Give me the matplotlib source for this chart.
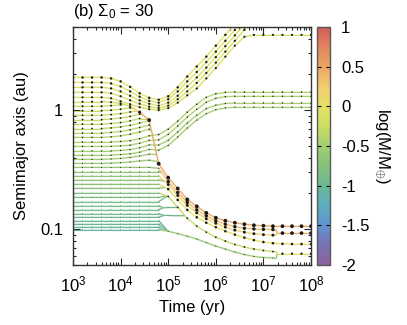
import numpy as np
import matplotlib.pyplot as plt
from matplotlib.colors import LinearSegmentedColormap, Normalize
from matplotlib.collections import LineCollection
from matplotlib.cm import ScalarMappable
from matplotlib.ticker import FixedLocator, FixedFormatter, LogLocator, NullFormatter

plt.rcParams['font.family'] = ['Liberation Sans', 'DejaVu Sans']
plt.rcParams['mathtext.fontset'] = 'custom'
plt.rcParams['mathtext.rm'] = 'Liberation Sans'
plt.rcParams['mathtext.it'] = 'Liberation Sans:italic'
plt.rcParams['font.size'] = 12

# output snapshots, log10(t / yr), every 0.2 dex
snap = [round(3.0 + 0.2 * k, 1) for k in range(26)]

# initial orbits at t = 1e3 yr: log10(a / au) and log10(M / M_earth)
loga0 = [0.275, 0.233, 0.192, 0.150, 0.108, 0.071, 0.033, -0.004, -0.042, -0.079,
         -0.117, -0.154, -0.192, -0.229, -0.267, -0.304, -0.342, -0.378, -0.413, -0.448,
         -0.481, -0.517, -0.552, -0.586, -0.621, -0.658, -0.696, -0.733, -0.769, -0.804,
         -0.836, -0.869, -0.900, -0.928, -0.957, -0.981, -1.003]
logm0 = [-0.05, -0.08, -0.1, -0.12, -0.15, -0.2, -0.22, -0.25, -0.27, -0.3,
         -0.32, -0.35, -0.37, -0.4, -0.42, -0.45, -0.48, -0.5, -0.53, -0.56,
         -0.6, -0.63, -0.66, -0.69, -0.72, -0.75, -0.78, -0.81, -0.84, -0.87,
         -0.9, -0.93, -0.96, -0.99, -1.02, -1.05, -1.08]

# outer bundle scattered outward (snapshots 4..25)
tail_A = [
    [0.267, 0.242, 0.196, 0.142, 0.104, 0.088, 0.117, 0.192, 0.283, 0.367, 0.450, 0.542, 0.633, 0.725, 0.817, 0.892] + [0.908] * 6,
    [0.225, 0.200, 0.158, 0.113, 0.079, 0.063, 0.092, 0.158, 0.242, 0.321, 0.404, 0.492, 0.583, 0.675, 0.767, 0.850] + [0.867] * 6,
    [0.183, 0.158, 0.121, 0.083, 0.054, 0.038, 0.063, 0.121, 0.200, 0.275, 0.358, 0.446, 0.538, 0.629, 0.721, 0.800] + [0.825] * 6,
    [0.142, 0.117, 0.083, 0.054, 0.029, 0.017, 0.038, 0.092, 0.158, 0.229, 0.313, 0.400, 0.492, 0.583, 0.675, 0.758] + [0.783] * 6,
    [0.100, 0.075, 0.050, 0.025, 0.008, 0.000, 0.017, 0.063, 0.125, 0.183, 0.267, 0.354, 0.450, 0.542, 0.617] + [0.633] * 7,
]

# the big planet migrating inward (snapshots 4..25)
tail_L1 = [0.067, 0.058, 0.033, -0.017, -0.083, -0.450, -0.567, -0.658, -0.750, -0.808, -0.863,
           -0.904, -0.929, -0.946, -0.958, -0.967, -0.971] + [-0.975] * 5

# middle group pushed out to ~1.1-1.4 au (snapshots 5..25)
tail_B = [
    [-0.263, -0.256, -0.240, -0.215, -0.205, -0.160, -0.092, -0.017, 0.050, 0.108, 0.138, 0.150] + [0.153] * 9,
    [-0.300, -0.294, -0.278, -0.253, -0.250, -0.203, -0.133, -0.058, 0.008, 0.067, 0.100, 0.113] + [0.117] * 9,
    [-0.338, -0.331, -0.316, -0.292, -0.293, -0.253, -0.183, -0.108, -0.042, 0.013, 0.042, 0.056] + [0.061] * 9,
    [-0.373, -0.367, -0.353, -0.330, -0.336, -0.296, -0.225, -0.150, -0.083, -0.029, 0.004, 0.019] + [0.025] * 9,
]

# orbits swallowed by the big planet: (orbit, log a from snapshot 4, last point)
swallowed = [
    (6, [0.038, 0.045], (4.09, 0.048)),
    (7, [0.000, 0.008, 0.020], (4.25, 0.020)),
    (8, [-0.037, -0.029, -0.015], (4.36, -0.007)),
    (9, [-0.074, -0.066, -0.052, -0.033], (4.45, -0.033)),
    (10, [-0.112, -0.104, -0.090, -0.070], (4.56, -0.070)),
    (11, [-0.149, -0.141, -0.127, -0.108, -0.090], (4.61, -0.101)),
    (12, [-0.187, -0.179, -0.165, -0.146, -0.125], (4.63, -0.138)),
    (13, [-0.224, -0.216, -0.202, -0.183, -0.160], (4.65, -0.175)),
    (18, [-0.410, -0.405, -0.397, -0.385, -0.370], (4.757, -0.372)),
    (19, [-0.445, -0.441, -0.435, -0.427, -0.420], (4.79, -0.433)),
]

# inner survivors
tail_L2 = [-0.488, -0.600, -0.692, -0.775, -0.838, -0.888, -0.929, -0.958, -0.979, -0.992,
           -0.998, -1.002, -1.003] + [-1.033] * 4                      # from snapshot 9
tail_X = [-0.625, -0.717, -0.800, -0.863, -0.913, -0.950, -0.983, -1.008, -1.025, -1.038,
          -1.046, -1.050]                                                # from snapshot 10
tail_L3 = [-0.663, -0.754, -0.838, -0.900, -0.946, -0.983, -1.017, -1.046, -1.071, -1.092,
           -1.108, -1.118, -1.123] + [-1.125] * 3
tail_L4 = [-0.725, -0.817, -0.908, -0.975, -1.025, -1.067, -1.100, -1.129, -1.150, -1.167,
           -1.179, -1.188] + [-1.206] * 4
tail_L5 = [-1.017, -1.038, -1.058, -1.083, -1.113, -1.142, -1.167, -1.192, -1.213, -1.229,
           -1.238, -1.242]

# inner orbits merging near 1e5 yr: (orbit, log a from snapshot 10, extra points)
merged = [
    (21, [], [(4.86, -0.521)]),
    (23, [], [(4.92, -0.596)]),
    (25, [], [(4.93, -0.648)]),
    (27, [], [(4.96, -0.720)]),
    (28, [], [(4.98, -0.722)]),
    (29, [], [(4.90, -0.820)]),
    (30, [-0.818, -0.817], [(4.90, -0.820)]),
    (31, [], [(4.90, -0.885)]),
    (32, [-0.885, -0.887], [(4.90, -0.885), (5.35, -0.886)]),
    (33, [], [(4.99, -1.015)]),
    (34, [], [(4.95, -1.010)]),
    (35, [], [(4.88, -1.007)]),
]


def build(i, k, tail=(), extra=(), steps=()):
    lt = snap[:k] + snap[k:k + len(tail)]
    la = [loga0[i]] * k + list(tail)
    for t, a in extra:
        lt.append(t)
        la.append(a)
    order = np.argsort(lt, kind='stable')
    lt = np.array(lt)[order]
    la = np.array(la)[order]
    lm = np.full(len(lt), logm0[i])
    for t, m in steps:
        lm[lt >= t - 1e-9] = m
    return lt, la, lm


tracks = []
for j, tail in enumerate(tail_A):
    tracks.append(build(j, 4, tail))
for j, tail in enumerate(tail_B):
    tracks.append(build(14 + j, 5, tail))
for i, tail, end in swallowed:
    tracks.append(build(i, 4, tail, [end]))
for i, tail, extra in merged:
    tracks.append(build(i, 10, tail, extra))
tracks.append(build(36, 10, tail_L5, [(7.27, -1.242), (7.29, -1.206)], [(5.0, -0.6)]))
tracks.append(build(26, 10, tail_L4, [(7.27, -1.190), (7.29, -1.206)], [(5.0, -0.3), (7.29, -0.1)]))
tracks.append(build(24, 10, tail_L3, steps=[(5.0, 0.0)]))
tracks.append(build(22, 10, tail_X, [(7.27, -1.050), (7.29, -1.033)], [(5.0, 0.15)]))
tracks.append(build(20, 9, tail_L2, [(7.27, -1.003), (7.29, -1.033)], [(5.0, 0.35), (7.29, 0.45)]))
tracks.append(build(5, 4, tail_L1, steps=[(4.4, 0.25), (4.6, 0.5)]))

nodes = [(-2.0, (0.56, 0.38, 0.62)), (-1.75, (0.47, 0.45, 0.70)), (-1.5, (0.38, 0.58, 0.82)),
         (-1.25, (0.36, 0.68, 0.74)), (-1.0, (0.42, 0.72, 0.58)), (-0.75, (0.52, 0.76, 0.48)),
         (-0.5, (0.64, 0.81, 0.44)), (-0.25, (0.80, 0.87, 0.40)), (0.0, (0.90, 0.88, 0.38)),
         (0.25, (0.95, 0.80, 0.45)), (0.5, (0.92, 0.65, 0.38)), (0.75, (0.88, 0.52, 0.38)),
         (1.0, (0.83, 0.36, 0.36))]
cmap = LinearSegmentedColormap.from_list('mass', [((v + 2) / 3, c) for v, c in nodes])
norm = Normalize(-2, 1)

fig = plt.figure(figsize=(4.07, 3.25), dpi=100)
ax = fig.add_axes([0.1794, 0.1846, 0.5848, 0.7323])

for lt, la, lm in tracks:
    x = 10 ** lt
    y = 10 ** la
    pts = np.column_stack([x, y])
    segs = np.stack([pts[:-1], pts[1:]], axis=1)
    cols = cmap(norm(lm[1:]))
    ax.add_collection(LineCollection(segs, colors=cols, linewidths=1.6, alpha=0.22, zorder=1))
    ax.add_collection(LineCollection(segs, colors=cols, linewidths=0.8, zorder=2))
    kk = (lt - 3) / 0.2
    on = np.isclose(kk, np.round(kk))
    m = lm[on]
    d = np.clip(1.3 + 1.8 * (m + 0.3), 0.6, 2.9)
    shade = np.where(m > -0.65, '0.1', '0.35')
    ax.scatter(x[on], y[on], s=d ** 2, c=shade, linewidths=0, zorder=3)

ax.set_xscale('log')
ax.set_yscale('log')
ax.set_xlim(1e3, 1e8)
ax.set_ylim(0.05, 5)
ax.xaxis.set_major_locator(FixedLocator([1e3, 1e4, 1e5, 1e6, 1e7, 1e8]))
ax.xaxis.set_major_formatter(FixedFormatter(['$10^{%d}$' % p for p in range(3, 9)]))
ax.xaxis.set_minor_locator(LogLocator(base=10, subs=range(2, 10), numticks=20))
ax.xaxis.set_minor_formatter(NullFormatter())
ax.yaxis.set_major_locator(FixedLocator([0.1, 1]))
ax.yaxis.set_major_formatter(FixedFormatter(['0.1', '1']))
ax.yaxis.set_minor_locator(LogLocator(base=10, subs=range(2, 10), numticks=20))
ax.yaxis.set_minor_formatter(NullFormatter())
ax.tick_params(which='both', direction='in', top=True, right=True, color='0.15', width=0.8)
ax.tick_params(which='major', length=5, pad=7, labelsize=12)
ax.tick_params(which='minor', length=2.5)
for s in ax.spines.values():
    s.set_color('0.2')
    s.set_linewidth(1.0)
ax.set_xlabel('Time (yr)', fontsize=12, labelpad=4)
ax.set_ylabel('Semimajor axis (au)', fontsize=12, labelpad=8)
ax.text(0.0, 1.025, r'(b) $\Sigma_0$ = 30', transform=ax.transAxes, fontsize=12,
        ha='left', va='bottom')

cax = fig.add_axes([0.779, 0.1846, 0.032, 0.7323])
cb = fig.colorbar(ScalarMappable(norm=norm, cmap=cmap), cax=cax)
cb.set_ticks([-2, -1.5, -1, -0.5, 0, 0.5, 1])
cb.set_ticklabels(['-2', '-1.5', '-1', '-0.5', '0', '0.5', '1'])
cax.tick_params(direction='in', left=True, right=True, length=3, width=0.8, color='k',
                labelsize=12, pad=8)
cb.outline.set_edgecolor('0.35')
cb.outline.set_linewidth(1.0)
cb.set_label(r'log(M/M$_{\oplus}$)', rotation=270, fontsize=12, labelpad=16)

fig.savefig('out.png', dpi=100)
